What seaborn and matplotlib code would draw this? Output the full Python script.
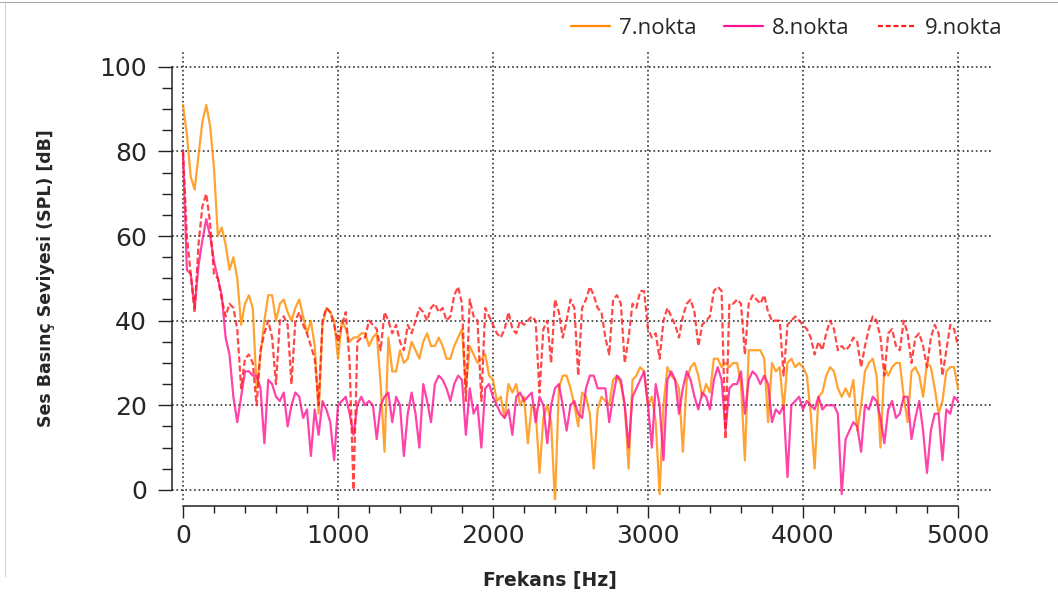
import numpy as np
import pandas as pd
import matplotlib
matplotlib.use('Agg')
import matplotlib.pyplot as plt
import seaborn as sns
from matplotlib.ticker import MultipleLocator, FixedLocator
from matplotlib.lines import Line2D
from matplotlib.patches import Rectangle

# frequency grid [Hz], 25 Hz steps
freq = np.arange(0, 5001, 25)

# SPL [dB], 20 values per 500 Hz row
nokta7 = [
    91, 84, 74, 71, 79, 87, 91, 86, 76, 60, 62, 58, 52, 55, 50, 39, 44, 46, 43, 24,
    32, 40, 46, 46, 40, 44, 45, 42, 40, 43, 45, 41, 37, 40, 34, 18, 39, 43, 42, 40,
    31, 40, 38, 35, 36, 36, 37, 37, 34, 36, 37, 25, 9, 36, 28, 28, 33, 30, 31, 35,
    33, 31, 35, 37, 34, 34, 36, 34, 31, 31, 34, 36, 38, 24, 34, 32, 30, 31, 32, 27,
    26, 21, 22, 17, 25, 23, 25, 20, 22, 11, 20, 19, 4, 17, 20, 16, -3, 24, 27, 27,
    24, 20, 15, 23, 22, 18, 5, 19, 22, 21, 20, 26, 27, 25, 20, 5, 26, 27, 29, 28,
    20, 22, 16, -1, 20, 29, 27, 26, 24, 9, 26, 29, 30, 27, 22, 25, 23, 31, 31, 29,
    30, 29, 30, 30, 25, 7, 33, 33, 33, 33, 31, 16, 30, 28, 29, 19, 30, 31, 29, 30,
    29, 27, 18, 5, 22, 23, 27, 29, 28, 24, 22, 24, 22, 26, 14, 20, 28, 30, 31, 27,
    10, 29, 27, 29, 30, 30, 22, 16, 28, 29, 27, 22, 30, 29, 24, 18, 21, 28, 29, 29,
    24,
]
nokta8 = [
    80, 52, 51, 43, 53, 59, 64, 60, 54, 50, 46, 36, 32, 22, 16, 22, 28, 28, 27, 27,
    24, 11, 26, 25, 22, 21, 23, 15, 20, 23, 22, 17, 19, 8, 19, 13, 21, 19, 16, 7,
    20, 21, 22, 18, 13, 20, 22, 20, 21, 20, 12, 20, 22, 23, 16, 22, 20, 8, 18, 23,
    18, 10, 25, 21, 16, 25, 27, 26, 24, 21, 25, 27, 26, 13, 24, 18, 20, 10, 24, 25,
    22, 20, 18, 17, 19, 13, 22, 23, 21, 22, 23, 16, 22, 20, 11, 20, 24, 25, 20, 14,
    20, 21, 18, 17, 24, 27, 27, 24, 24, 24, 16, 22, 27, 26, 20, 10, 22, 24, 26, 28,
    20, 10, 25, 20, 7, 26, 28, 26, 18, 24, 28, 26, 22, 19, 23, 22, 19, 26, 29, 26,
    14, 24, 25, 25, 28, 18, 26, 28, 27, 25, 27, 25, 16, 19, 18, 20, 3, 20, 21, 22,
    19, 21, 20, 19, 22, 19, 20, 20, 20, 18, -1, 12, 14, 16, 15, 9, 20, 19, 22, 21,
    17, 11, 19, 21, 17, 18, 22, 22, 12, 17, 21, 14, 4, 14, 18, 18, 7, 19, 18, 22,
    21,
]
nokta9 = [
    80, 60, 51, 42, 58, 67, 70, 63, 51, 50, 45, 41, 44, 43, 38, 24, 31, 32, 30, 20,
    33, 37, 40, 36, 25, 40, 41, 39, 25, 40, 42, 39, 37, 34, 31, 20, 40, 43, 42, 39,
    35, 39, 42, 30, 0, 35, 36, 36, 40, 39, 38, 33, 42, 40, 37, 39, 35, 33, 39, 37,
    40, 43, 42, 40, 43, 44, 42, 43, 40, 41, 46, 48, 44, 21, 45, 41, 40, 21, 43, 41,
    39, 37, 36, 38, 42, 38, 37, 40, 39, 40, 41, 40, 23, 38, 40, 30, 45, 42, 36, 40,
    45, 43, 27, 43, 45, 48, 46, 43, 42, 36, 32, 45, 46, 44, 30, 36, 44, 43, 47, 47,
    38, 36, 37, 31, 40, 43, 41, 39, 36, 41, 44, 45, 42, 34, 39, 40, 41, 47, 48, 47,
    12, 44, 44, 45, 44, 32, 44, 46, 45, 44, 46, 42, 40, 40, 40, 27, 39, 40, 41, 40,
    39, 38, 36, 32, 35, 33, 37, 40, 38, 33, 34, 33, 34, 36, 35, 29, 34, 38, 41, 40,
    36, 27, 37, 38, 34, 33, 40, 37, 30, 36, 37, 34, 29, 36, 39, 37, 27, 33, 39, 38,
    34,
]

labels = ['7.nokta', '8.nokta', '9.nokta']
colors = {'7.nokta': '#ff8c00', '8.nokta': '#ff1493', '9.nokta': '#ff1a1a'}
dashes = {'7.nokta': '', '8.nokta': '', '9.nokta': (2.8, 1.3)}

df = pd.DataFrame({
    'Frekans': np.tile(freq, 3),
    'SPL': nokta7 + nokta8 + nokta9,
    'Nokta': np.repeat(labels, len(freq)),
})

sns.set_style('white')
plt.rcParams['font.family'] = ['DejaVu Sans']

fig = plt.figure(figsize=(10.58, 6.12), dpi=100)
ax = fig.add_axes([172 / 1058, 112 / 612, (993 - 172) / 1058, (560 - 112) / 612])

sns.lineplot(data=df, x='Frekans', y='SPL', hue='Nokta', style='Nokta',
             palette=colors, dashes=dashes, linewidth=1.6, alpha=0.8,
             estimator=None, ax=ax)

ax.set_xlim(-71, 5226)
ax.set_ylim(-2.4, 103.5)

# axis styling
for s in ['top', 'right']:
    ax.spines[s].set_visible(False)
ax.spines['left'].set_bounds(0, 100)
ax.spines['bottom'].set_bounds(0, 5000)
ax.spines['bottom'].set_position(('outward', 4))
for s in ['left', 'bottom']:
    ax.spines[s].set_color('#222222')
    ax.spines[s].set_linewidth(1.1)

ax.xaxis.set_major_locator(MultipleLocator(1000))
ax.xaxis.set_minor_locator(FixedLocator(np.arange(0, 5001, 200)))
ax.yaxis.set_major_locator(MultipleLocator(20))
ax.yaxis.set_minor_locator(FixedLocator(np.arange(0, 101, 5)))
ax.tick_params(axis='y', which='major', length=10, width=1, direction='out',
               color='#222222', labelsize=18, pad=8, left=True)
ax.tick_params(axis='y', which='minor', length=7, width=1, direction='out',
               color='#222222', left=True)
ax.tick_params(axis='x', which='major', length=8.5, width=1, direction='out',
               color='#222222', labelsize=18, pad=5, bottom=True)
ax.tick_params(axis='x', which='minor', length=5, width=1, direction='out',
               color='#222222', bottom=True)

ax.grid(True, which='major', linestyle=':', linewidth=1.2, color='#333333')

ax.set_xlabel('Frekans [Hz]', fontsize=13.5, fontweight='bold', family='DejaVu Sans')
ax.set_ylabel('Ses Basınç Seviyesi (SPL) [dB]', fontsize=12.5, fontweight='bold',
              family='DejaVu Sans')
ax.xaxis.set_label_coords((550 - 172) / (993 - 172), (612 - 571 - 112) / (560 - 112))
ax.yaxis.set_label_coords(-(172 - 55) / (993 - 172), (612 - 278 - 112) / (560 - 112))

# legend above the plot, right side
ax.get_legend().remove()
handles = [Line2D([], [], color=colors[l], linewidth=1.6,
                  linestyle=(0, (2.2, 1.3)) if l == '9.nokta' else '-')
           for l in labels]
fig.legend(handles, labels, loc='center right', bbox_to_anchor=(1003 / 1058, 1 - 28 / 612),
           ncol=3, frameon=False, prop={'family': 'Open Sans', 'size': 16},
           handlelength=1.75, handletextpad=0.4, columnspacing=1.25,
           borderpad=0, borderaxespad=0)

# screenshot frame
fig.add_artist(Rectangle((0, 1 - 3 / 612), 1, 1.5 / 612, transform=fig.transFigure,
                         color='#a8a8a8', lw=0))
fig.add_artist(Rectangle((5 / 1058, 35 / 612), 1.2 / 1058, 1 - 38 / 612,
                         transform=fig.transFigure, color='#cfcfcf', lw=0))

fig.savefig('out.png', dpi=100)
